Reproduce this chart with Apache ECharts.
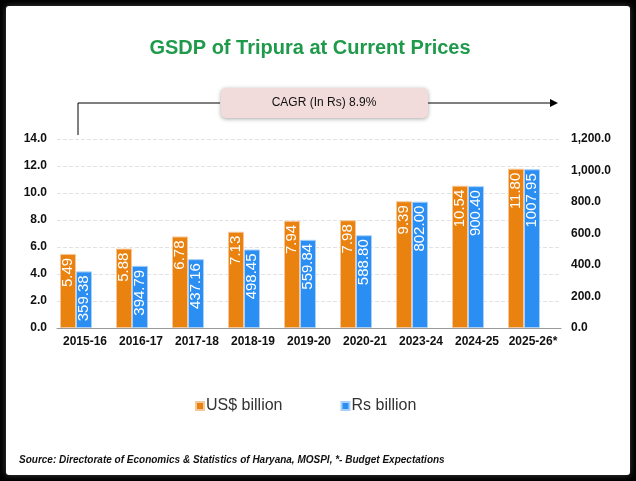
<!DOCTYPE html>
<html>
<head>
<meta charset="utf-8">
<script src="https://cdn.jsdelivr.net/npm/echarts@6/dist/echarts.min.js"></script>
<style>
  html, body { margin: 0; padding: 0; background: #000; }
  #chart { width: 636px; height: 481px; }
</style>
</head>
<body>
<div id="chart"></div>
<script>
// data
var years = ['2015-16', '2016-17', '2017-18', '2018-19', '2019-20', '2020-21', '2023-24', '2024-25', '2025-26*'];
var usdBillion = [5.49, 5.88, 6.78, 7.13, 7.94, 7.98, 9.39, 10.54, 11.80];
var rsBillion = [359.38, 394.79, 437.16, 498.45, 559.84, 588.80, 802.00, 900.40, 1007.95];

var myChart = echarts.init(document.getElementById('chart'));

var barLabel = {
    show: true,
    position: 'insideTop',
    rotate: 90,
    align: 'right',
    verticalAlign: 'middle',
    distance: 4,
    color: '#fff',
    fontSize: 15,
    fontFamily: 'Liberation Sans',
    formatter: function (p) { return p.value.toFixed(2); }
};

var option = {
    backgroundColor: '#000',
    textStyle: { fontFamily: 'Liberation Sans' },
    graphic: [
        {
            type: 'rect', z: -10, silent: true,
            shape: { x: 6, y: 6, width: 624, height: 469, r: 3 },
            style: { fill: '#fff', shadowBlur: 6, shadowColor: 'rgba(80,80,80,0.8)' }
        },
        {
            type: 'text', silent: true, x: 310, y: 48,
            style: { text: 'GSDP of Tripura at Current Prices', fill: '#1f9a4b', font: 'bold 20px Liberation Sans', align: 'center', verticalAlign: 'middle' }
        },
        {
            type: 'polyline', silent: true,
            shape: { points: [[78, 135], [78, 103], [220, 103]] },
            style: { stroke: '#000', lineWidth: 1, fill: null }
        },
        {
            type: 'line', silent: true,
            shape: { x1: 428, y1: 103, x2: 551, y2: 103 },
            style: { stroke: '#000', lineWidth: 1 }
        },
        {
            type: 'polygon', silent: true,
            shape: { points: [[550, 99], [558, 103], [550, 107]] },
            style: { fill: '#000' }
        },
        {
            type: 'rect', silent: true,
            shape: { x: 221, y: 88, width: 207, height: 30, r: 5 },
            style: { fill: '#f2dcdb', shadowBlur: 4, shadowOffsetY: 1, shadowColor: 'rgba(0,0,0,0.35)' }
        },
        {
            type: 'text', silent: true, x: 324, y: 103,
            style: { text: 'CAGR (In Rs) 8.9%', fill: '#111', font: '12px Liberation Sans', align: 'center', verticalAlign: 'middle' }
        },
        {
            type: 'text', silent: true, x: 19, y: 460,
            style: { text: 'Source: Directorate of Economics & Statistics of Haryana, MOSPI, *- Budget Expectations', fill: '#111', font: 'italic bold 10px Liberation Sans', verticalAlign: 'middle' }
        }
    ],
    legend: {
        data: ['US$ billion', 'Rs billion'],
        top: 393,
        left: 190,
        itemWidth: 8,
        itemHeight: 8,
        itemGap: 58,
        icon: 'rect',
        textStyle: { fontSize: 16, color: '#333', fontFamily: 'Liberation Sans', padding: [0, 0, 0, -3] }
    },
    grid: { left: 57, right: 75, top: 139, bottom: 153 },
    xAxis: {
        type: 'category',
        data: years,
        axisLine: { lineStyle: { color: '#999' } },
        axisTick: { lineStyle: { color: '#999' }, length: 4 },
        axisLabel: { color: '#111', fontWeight: 'bold', fontSize: 12, margin: 8, interval: 0, hideOverlap: false }
    },
    yAxis: [
        {
            type: 'value', min: 0, max: 14, interval: 2,
            axisLabel: { color: '#111', fontWeight: 'bold', fontSize: 12, margin: 10, formatter: function (v) { return v.toFixed(1); } },
            splitLine: { lineStyle: { color: '#e2e2e2', type: 'dashed' } },
            axisLine: { show: false }, axisTick: { show: false }
        },
        {
            type: 'value', min: 0, max: 1200, interval: 200,
            axisLabel: { color: '#111', fontWeight: 'bold', fontSize: 12, margin: 10,
                formatter: function (v) { return v.toLocaleString('en-US', { minimumFractionDigits: 1, maximumFractionDigits: 1 }); } },
            splitLine: { show: false },
            axisLine: { show: false }, axisTick: { show: false }
        }
    ],
    series: [
        {
            name: 'US$ billion',
            type: 'bar',
            yAxisIndex: 0,
            barWidth: 16,
            barGap: '0%',
            itemStyle: { color: '#e9820e', borderColor: '#f6c79a', borderWidth: 1 },
            label: barLabel,
            data: usdBillion
        },
        {
            name: 'Rs billion',
            type: 'bar',
            yAxisIndex: 1,
            barWidth: 16,
            barGap: '0%',
            itemStyle: { color: '#2a8ef2', borderColor: '#a8d0f8', borderWidth: 1 },
            label: barLabel,
            data: rsBillion
        },
        {
            // empty slot that pushes the bar pair to the left of each category, as in the source chart
            name: 'spacer',
            type: 'bar',
            yAxisIndex: 0,
            barWidth: 18,
            barGap: '0%',
            silent: true,
            itemStyle: { color: 'transparent' },
            data: years.map(function () { return '-'; })
        }
    ]
};

myChart.setOption(option);
</script>
</body>
</html>
